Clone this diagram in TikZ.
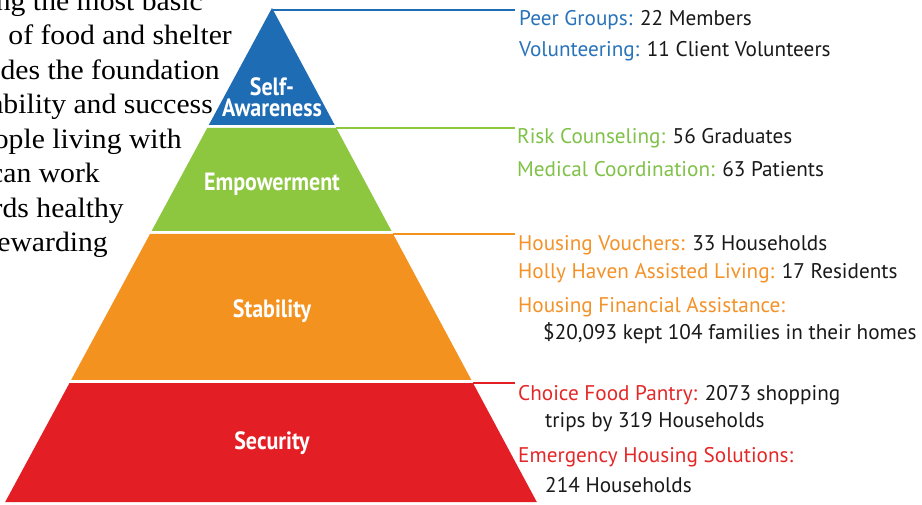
\documentclass[tikz,border=0pt]{standalone}
\usepackage{fontspec}
\setmainfont{PT Sans}
\newfontfamily\leftserif{Liberation Serif}
\definecolor{tblue}{RGB}{30,108,180}
\definecolor{tgreen}{RGB}{141,198,63}
\definecolor{torange}{RGB}{244,146,32}
\definecolor{tred}{RGB}{227,30,36}
\definecolor{xblue}{RGB}{40,115,185}
\definecolor{xgreen}{RGB}{128,194,72}
\definecolor{xorange}{RGB}{244,146,40}
\definecolor{xred}{RGB}{228,40,40}
\definecolor{xtext}{RGB}{25,25,25}
\tikzset{
  conn/.style={line width=2pt},
  item/.style={anchor=base west, inner sep=0pt, text=xtext, font=\fontsize{21.2}{24}\selectfont},
  tierlbl/.style={anchor=base, inner sep=0pt, text=white, font=\fontsize{25}{20.5}\selectfont\bfseries, align=center},
  lefttxt/.style={anchor=base east, inner sep=0pt, text=black, font=\leftserif\fontsize{28}{34}\selectfont},
}
\newcommand{\cond}[1]{\scalebox{0.88}[1]{#1}}
\newcommand{\widen}[1]{\scalebox{1.06}[1]{#1}}
\begin{document}
\begin{tikzpicture}[x=1pt,y=-1pt]
\useasboundingbox (0,0) rectangle (922,505);
\fill[white] (0,0) rectangle (922,505);
\clip (0,0) rectangle (922,505);
% left paragraph fragments
\node[lefttxt] (l1) at (203,10.5) {\widen{ing the most basic}};
\node[lefttxt] (l2) at (232,45) {\widen{s of food and shelter}};
\node[lefttxt] (l3) at (220,79.5) {\widen{des the foundation}};
\node[lefttxt] (l4) at (213,114) {\widen{ability and success}};
\node[lefttxt] (l5) at (182,148.5) {\widen{ople living with}};
\node[lefttxt] (l6) at (100,183) {\widen{can work}};
\node[lefttxt] (l7) at (124,217.5) {\widen{rds healthy}};
\node[lefttxt] (l8) at (108,252) {\widen{ewarding}};
% tiers
\fill[tblue] (272,8) -- (334.7,125) -- (208.8,125) -- cycle;
\fill[tgreen] (207.2,128) -- (336.3,128) -- (391.5,231) -- (151.6,231) -- cycle;
\fill[torange] (150,234) -- (393.1,234) -- (471.4,380) -- (71.1,380) -- cycle;
\fill[tred] (69.5,383) -- (473,383) -- (536.8,502) -- (5.2,502) -- cycle;
% corners and ends
\coordinate (apex) at (273,10);
\coordinate (gTR) at (336.3,128);
\coordinate (oTR) at (393.1,234.5);
\coordinate (rTR) at (473,383);
\coordinate (bEnd) at (515,10);
\coordinate (gEnd) at (515,128);
\coordinate (oEnd) at (515,234.5);
\coordinate (rEnd) at (515,383);
\draw[conn, tblue] (apex) -- (bEnd);
\draw[conn, tgreen] (gTR) -- (gEnd);
\draw[conn, torange] (oTR) -- (oEnd);
\draw[conn, tred] (rTR) -- (rEnd);
% tier labels
\node[tierlbl, anchor=south] (self) at (272,117) {\cond{Self-}\\\cond{Awareness}};
\node[tierlbl] (emp) at (272,191) {\cond{Empowerment}};
\node[tierlbl] (stab) at (272,318) {\cond{Stability}};
\node[tierlbl] (sec) at (272,449) {\cond{Security}};
% items
\node[item] (t1) at (519,26) {\textcolor{xblue}{Peer Groups:} 22 Members};
\node[item] (t2) at (519,57) {\textcolor{xblue}{Volunteering:} 11 Client Volunteers};
\node[item] (t3) at (517,144) {\textcolor{xgreen}{Risk Counseling:} 56 Graduates};
\node[item] (t4) at (517,177) {\textcolor{xgreen}{Medical Coordination:} 63 Patients};
\node[item] (t5) at (518,251) {\textcolor{xorange}{Housing Vouchers:} 33 Households};
\node[item] (t6) at (518,279) {\textcolor{xorange}{Holly Haven Assisted Living:} 17 Residents};
\node[item] (t7) at (518,313) {\textcolor{xorange}{Housing Financial Assistance:}};
\node[item] (t8) at (543,340) {\$20,093 kept 104 families in their homes};
\node[item] (t9) at (518,400) {\textcolor{xred}{Choice Food Pantry:} 2073 shopping};
\node[item] (t10) at (545,428) {trips by 319 Households};
\node[item] (t11) at (518,462) {\textcolor{xred}{Emergency Housing Solutions:}};
\node[item] (t12) at (545,492) {214 Households};
\end{tikzpicture}
\end{document}
